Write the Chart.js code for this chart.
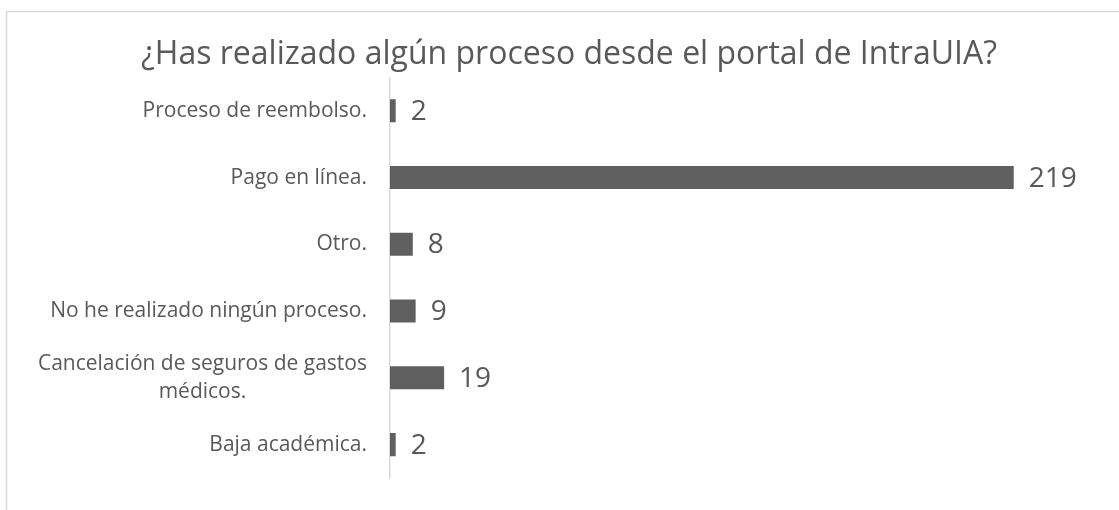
<!DOCTYPE html>
<html>
<head>
<meta charset="utf-8">
<script src="https://cdn.jsdelivr.net/npm/chart.js@4"></script>
<style>
  html, body { margin: 0; padding: 0; background: #ffffff; overflow: hidden; }
  #wrap { position: relative; width: 1119px; height: 510px; }
</style>
</head>
<body>
<div id="wrap"><canvas id="c" width="1119" height="510"></canvas></div>
<script>
const titleText = '¿Has realizado algún proceso desde el portal de IntraUIA?';
const categories = [
  'Proceso de reembolso.',
  'Pago en línea.',
  'Otro.',
  'No he realizado ningún proceso.',
  ['Cancelación de seguros de gastos', 'médicos.'],
  'Baja académica.'
];
const counts = [2, 219, 8, 9, 19, 2];
const axisMax = 250;

const TEXT = '#595959';
const FONT = '"Open Sans", sans-serif';

const frame = {
  id: 'frame',
  beforeDraw(chart) {
    const ctx = chart.ctx;
    ctx.save();
    ctx.strokeStyle = '#d9d9d9';
    ctx.lineWidth = 1.5;
    ctx.strokeRect(6.5, 11.5, 1300, 700);
    ctx.restore();
  }
};

const catLabels = {
  id: 'catLabels',
  afterDraw(chart) {
    const ctx = chart.ctx;
    const ys = chart.scales.y;
    ctx.save();
    ctx.font = '21px ' + FONT;
    ctx.fillStyle = TEXT;
    ctx.textBaseline = 'middle';
    ctx.textAlign = 'center';
    const lineH = 28;
    const right = chart.chartArea.left - 23;
    chart.data.labels.forEach((lab, i) => {
      const lines = Array.isArray(lab) ? lab : [lab];
      const w = Math.max(...lines.map(l => ctx.measureText(l).width));
      const cx = right - w / 2;
      const cy = ys.getPixelForTick(i);
      const y0 = cy - (lines.length - 1) * lineH / 2;
      lines.forEach((l, k) => ctx.fillText(l, cx, y0 + k * lineH));
    });
    ctx.restore();
  }
};

const valueLabels = {
  id: 'valueLabels',
  afterDatasetsDraw(chart) {
    const ctx = chart.ctx;
    const meta = chart.getDatasetMeta(0);
    ctx.save();
    ctx.font = '28px ' + FONT;
    ctx.fillStyle = TEXT;
    ctx.textBaseline = 'middle';
    ctx.textAlign = 'left';
    meta.data.forEach((bar, i) => {
      ctx.fillText(String(chart.data.datasets[0].data[i]), bar.x + 15, bar.y + 1);
    });
    ctx.restore();
  }
};

new Chart(document.getElementById('c'), {
  type: 'bar',
  data: {
    labels: categories,
    datasets: [{
      data: counts,
      backgroundColor: '#5f5f5f',
      borderWidth: 0,
      categoryPercentage: 1,
      barPercentage: 0.345
    }]
  },
  options: {
    indexAxis: 'y',
    responsive: false,
    animation: false,
    layout: { padding: { left: 36, right: 17, top: 0, bottom: 32 } },
    plugins: {
      legend: { display: false },
      tooltip: { enabled: false },
      title: {
        display: true,
        text: titleText,
        color: TEXT,
        font: { family: FONT, size: 32, weight: 'normal' },
        padding: { top: 36, bottom: 3 }
      }
    },
    scales: {
      x: { display: false, min: 0, max: axisMax },
      y: {
        display: true,
        afterFit(scale) { scale.width = 354; },
        grid: { display: false, drawTicks: false },
        border: { display: true, color: '#d9d9d9', width: 1.5 },
        ticks: { display: false }
      }
    }
  },
  plugins: [frame, catLabels, valueLabels]
});
</script>
</body>
</html>
